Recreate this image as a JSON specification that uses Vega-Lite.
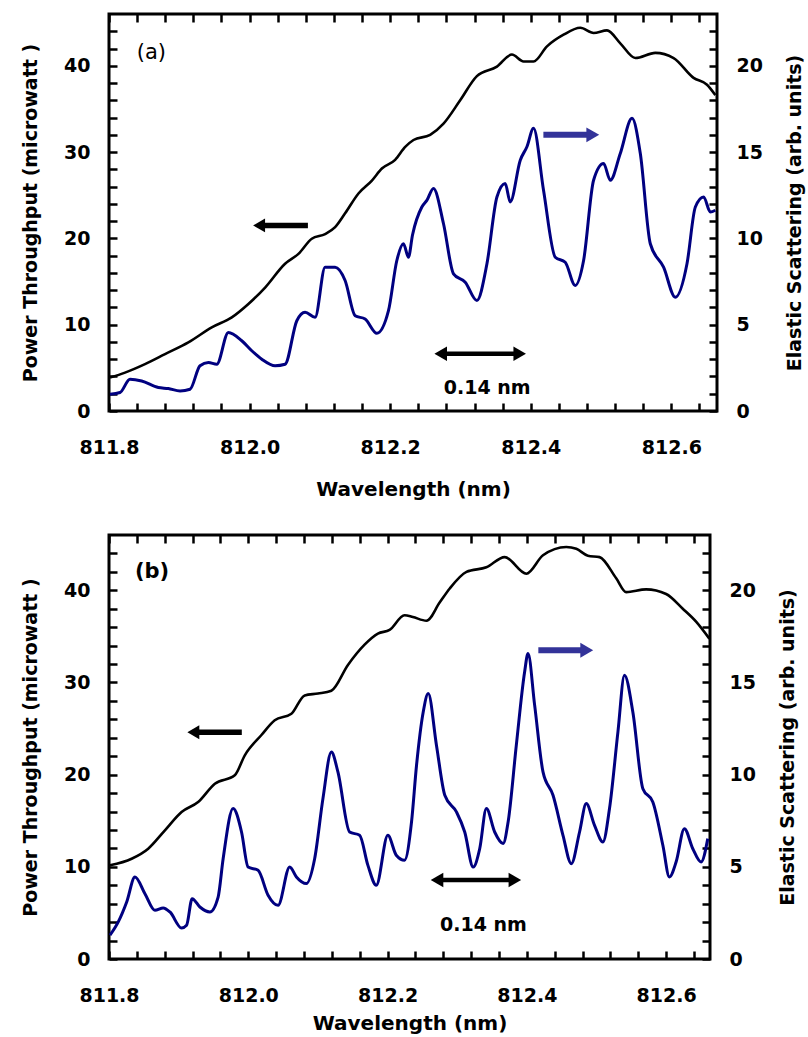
{
  "$schema": "https://vega.github.io/schema/vega-lite/v6.json",
  "padding": {"left": 20, "top": 11, "right": 0, "bottom": 2},
  "spacing": 31,
  "background": "white",
  "datasets": {
    "a_power": [
      {"wl": 811.8014, "p": 3.87}, {"wl": 811.8228, "p": 4.45}, {"wl": 811.8512, "p": 5.43}, {"wl": 811.8797, "p": 6.59},
      {"wl": 811.9129, "p": 7.95}, {"wl": 811.9462, "p": 9.69}, {"wl": 811.9747, "p": 10.85}, {"wl": 811.9983, "p": 12.4},
      {"wl": 812.0221, "p": 14.3}, {"wl": 812.0505, "p": 17.06}, {"wl": 812.0695, "p": 18.2}, {"wl": 812.0885, "p": 19.96},
      {"wl": 812.1075, "p": 20.5}, {"wl": 812.1217, "p": 21.3}, {"wl": 812.1359, "p": 22.9}, {"wl": 812.1549, "p": 25.2},
      {"wl": 812.174, "p": 26.7}, {"wl": 812.1882, "p": 28.1}, {"wl": 812.2071, "p": 29.1}, {"wl": 812.2214, "p": 30.6},
      {"wl": 812.2332, "p": 31.4}, {"wl": 812.2569, "p": 32.0}, {"wl": 812.2759, "p": 33.3}, {"wl": 812.2996, "p": 36.0},
      {"wl": 812.3234, "p": 38.8}, {"wl": 812.3519, "p": 39.9}, {"wl": 812.3732, "p": 41.3}, {"wl": 812.3898, "p": 40.5},
      {"wl": 812.404, "p": 40.5}, {"wl": 812.4231, "p": 42.25}, {"wl": 812.4467, "p": 43.6}, {"wl": 812.4705, "p": 44.4},
      {"wl": 812.4894, "p": 43.8}, {"wl": 812.5085, "p": 44.1}, {"wl": 812.5274, "p": 42.6}, {"wl": 812.5488, "p": 40.9},
      {"wl": 812.5772, "p": 41.5}, {"wl": 812.6033, "p": 40.9}, {"wl": 812.6317, "p": 38.6}, {"wl": 812.6508, "p": 37.8},
      {"wl": 812.6626, "p": 36.6}
    ],
    "a_scatter": [
      {"wl": 811.8014, "s": 0.97}, {"wl": 811.8157, "s": 1.07}, {"wl": 811.8299, "s": 1.84}, {"wl": 811.8465, "s": 1.74},
      {"wl": 811.8702, "s": 1.36}, {"wl": 811.8844, "s": 1.3}, {"wl": 811.9011, "s": 1.16}, {"wl": 811.9153, "s": 1.26},
      {"wl": 811.9295, "s": 2.62}, {"wl": 811.9414, "s": 2.81}, {"wl": 811.9533, "s": 2.71}, {"wl": 811.9698, "s": 4.55},
      {"wl": 811.9889, "s": 4.07}, {"wl": 812.0031, "s": 3.49}, {"wl": 812.0174, "s": 3.0}, {"wl": 812.0363, "s": 2.62},
      {"wl": 812.0505, "s": 2.71}, {"wl": 812.0672, "s": 5.23}, {"wl": 812.079, "s": 5.72}, {"wl": 812.0932, "s": 5.43},
      {"wl": 812.1075, "s": 8.33}, {"wl": 812.1217, "s": 8.33}, {"wl": 812.1359, "s": 7.56}, {"wl": 812.1502, "s": 5.52},
      {"wl": 812.1644, "s": 5.33}, {"wl": 812.1811, "s": 4.5}, {"wl": 812.1976, "s": 5.81}, {"wl": 812.2095, "s": 8.72},
      {"wl": 812.2189, "s": 9.69}, {"wl": 812.226, "s": 8.91}, {"wl": 812.2318, "s": 10.2}, {"wl": 812.2451, "s": 11.82},
      {"wl": 812.2522, "s": 12.2}, {"wl": 812.2616, "s": 12.89}, {"wl": 812.2759, "s": 10.85}, {"wl": 812.2901, "s": 7.95},
      {"wl": 812.3068, "s": 7.46}, {"wl": 812.3234, "s": 6.4}, {"wl": 812.3377, "s": 8.53}, {"wl": 812.3519, "s": 12.4},
      {"wl": 812.3637, "s": 13.18}, {"wl": 812.3708, "s": 12.11}, {"wl": 812.3851, "s": 14.53}, {"wl": 812.3946, "s": 15.31},
      {"wl": 812.404, "s": 16.38}, {"wl": 812.4182, "s": 12.79}, {"wl": 812.4349, "s": 8.91}, {"wl": 812.4491, "s": 8.62},
      {"wl": 812.4633, "s": 7.27}, {"wl": 812.4752, "s": 8.72}, {"wl": 812.4894, "s": 13.37}, {"wl": 812.5036, "s": 14.34},
      {"wl": 812.5132, "s": 13.37}, {"wl": 812.5274, "s": 14.92}, {"wl": 812.5441, "s": 16.96}, {"wl": 812.5559, "s": 14.92},
      {"wl": 812.5701, "s": 9.69}, {"wl": 812.589, "s": 8.33}, {"wl": 812.6057, "s": 6.59}, {"wl": 812.6223, "s": 8.53},
      {"wl": 812.6342, "s": 11.82}, {"wl": 812.646, "s": 12.4}, {"wl": 812.6555, "s": 11.53}, {"wl": 812.6626, "s": 11.63}
    ],
    "b_power": [
      {"wl": 811.8014, "p": 10.17}, {"wl": 811.8325, "p": 10.88}, {"wl": 811.8563, "p": 11.97}, {"wl": 811.8803, "p": 13.96},
      {"wl": 811.9042, "p": 15.95}, {"wl": 811.928, "p": 17.03}, {"wl": 811.952, "p": 19.02}, {"wl": 811.9806, "p": 19.93},
      {"wl": 811.995, "p": 22.1}, {"wl": 812.0189, "p": 24.3}, {"wl": 812.038, "p": 25.9}, {"wl": 812.0619, "p": 26.6},
      {"wl": 812.081, "p": 28.6}, {"wl": 812.1001, "p": 28.8}, {"wl": 812.1193, "p": 29.1}, {"wl": 812.1431, "p": 31.9},
      {"wl": 812.167, "p": 34.1}, {"wl": 812.1861, "p": 35.3}, {"wl": 812.2029, "p": 35.7}, {"wl": 812.2244, "p": 37.3},
      {"wl": 812.2363, "p": 37.1}, {"wl": 812.2559, "p": 36.7}, {"wl": 812.275, "p": 38.7}, {"wl": 812.2893, "p": 40.2},
      {"wl": 812.3133, "p": 42.0}, {"wl": 812.3419, "p": 42.5}, {"wl": 812.3682, "p": 43.6}, {"wl": 812.3993, "p": 41.8},
      {"wl": 812.4232, "p": 43.8}, {"wl": 812.4566, "p": 44.7}, {"wl": 812.471, "p": 44.5}, {"wl": 812.4877, "p": 43.75},
      {"wl": 812.5044, "p": 43.6}, {"wl": 812.5283, "p": 41.3}, {"wl": 812.5427, "p": 39.8}, {"wl": 812.5713, "p": 40.1},
      {"wl": 812.6, "p": 39.6}, {"wl": 812.6239, "p": 38.0}, {"wl": 812.643, "p": 36.6}, {"wl": 812.6621, "p": 34.75}
    ],
    "b_scatter": [
      {"wl": 811.8014, "s": 1.29}, {"wl": 811.8133, "s": 2.01}, {"wl": 811.8254, "s": 3.09}, {"wl": 811.8373, "s": 4.45},
      {"wl": 811.8516, "s": 3.54}, {"wl": 811.8659, "s": 2.64}, {"wl": 811.8778, "s": 2.77}, {"wl": 811.8875, "s": 2.55},
      {"wl": 811.9042, "s": 1.68}, {"wl": 811.9114, "s": 1.83}, {"wl": 811.9194, "s": 3.27}, {"wl": 811.9305, "s": 2.82},
      {"wl": 811.9448, "s": 2.55}, {"wl": 811.9567, "s": 3.36}, {"wl": 811.9639, "s": 5.44}, {"wl": 811.9782, "s": 8.16},
      {"wl": 811.9903, "s": 6.89}, {"wl": 811.9997, "s": 4.99}, {"wl": 812.0141, "s": 4.81}, {"wl": 812.0284, "s": 3.46},
      {"wl": 812.0427, "s": 2.91}, {"wl": 812.0595, "s": 4.99}, {"wl": 812.0691, "s": 4.45}, {"wl": 812.0834, "s": 4.09},
      {"wl": 812.0953, "s": 5.44}, {"wl": 812.1072, "s": 8.7}, {"wl": 812.1193, "s": 11.23}, {"wl": 812.1287, "s": 10.15},
      {"wl": 812.1455, "s": 6.89}, {"wl": 812.1599, "s": 6.71}, {"wl": 812.1718, "s": 5.08}, {"wl": 812.1838, "s": 4.0},
      {"wl": 812.2004, "s": 6.71}, {"wl": 812.2125, "s": 5.63}, {"wl": 812.2244, "s": 5.36}, {"wl": 812.2344, "s": 7.43},
      {"wl": 812.2416, "s": 10.51}, {"wl": 812.2512, "s": 13.4}, {"wl": 812.2584, "s": 14.4}, {"wl": 812.2702, "s": 11.6},
      {"wl": 812.2822, "s": 8.88}, {"wl": 812.2989, "s": 7.98}, {"wl": 812.3108, "s": 6.89}, {"wl": 812.3229, "s": 4.99},
      {"wl": 812.3323, "s": 5.98}, {"wl": 812.3419, "s": 8.16}, {"wl": 812.3538, "s": 6.89}, {"wl": 812.3659, "s": 6.26},
      {"wl": 812.3731, "s": 7.43}, {"wl": 812.3849, "s": 11.6}, {"wl": 812.3968, "s": 15.57}, {"wl": 812.4017, "s": 16.57},
      {"wl": 812.4112, "s": 13.77}, {"wl": 812.4232, "s": 10.15}, {"wl": 812.4376, "s": 8.88}, {"wl": 812.4519, "s": 6.71},
      {"wl": 812.4638, "s": 5.17}, {"wl": 812.4757, "s": 6.89}, {"wl": 812.4853, "s": 8.43}, {"wl": 812.4972, "s": 7.25},
      {"wl": 812.5092, "s": 6.35}, {"wl": 812.5187, "s": 8.16}, {"wl": 812.5308, "s": 12.32}, {"wl": 812.5402, "s": 15.39},
      {"wl": 812.5522, "s": 13.4}, {"wl": 812.5666, "s": 9.24}, {"wl": 812.5809, "s": 8.52}, {"wl": 812.5953, "s": 6.17},
      {"wl": 812.6047, "s": 4.45}, {"wl": 812.6143, "s": 5.26}, {"wl": 812.6262, "s": 7.07}, {"wl": 812.6383, "s": 5.98},
      {"wl": 812.6502, "s": 5.26}, {"wl": 812.6598, "s": 6.53}
    ]
  },
  "vconcat": [
    {
      "width": 608,
      "height": 397,
      "resolve": {"scale": {"x": "independent", "y": "independent"}},
      "layer": [
        {
          "data": {"name": "a_power"},
          "mark": {"type": "line", "color": "black", "strokeWidth": 2.6, "clip": true, "interpolate": "monotone"},
          "encoding": {
            "x": {"field": "wl", "type": "quantitative", "scale": {"domain": [811.8, 812.665], "nice": false, "zero": false},
              "axis": {"orient": "bottom", "values": [811.8, 811.84, 811.88, 811.92, 811.96, 812.0, 812.04, 812.08, 812.12, 812.16, 812.2, 812.24, 812.28, 812.32, 812.36, 812.4, 812.44, 812.48, 812.52, 812.56, 812.6, 812.64],
                "labelExpr": "abs(datum.value*5 - round(datum.value*5)) < 0.001 ? format(datum.value, '.1f') : ''",
                "labelFlush": false, "labelOverlap": false, "labelPadding": 35, "labelFontWeight": "bold", "title": "Wavelength (nm)", "titlePadding": 22, "titleFontSize": 20}},
            "y": {"field": "p", "type": "quantitative", "scale": {"domain": [0, 46], "nice": false, "zero": false},
              "axis": {"orient": "left", "values": [0, 2, 4, 6, 8, 10, 12, 14, 16, 18, 20, 22, 24, 26, 28, 30, 32, 34, 36, 38, 40, 42, 44],
                "labelExpr": "datum.value % 10 === 0 ? datum.label : ''", "labelOverlap": false, "labelFlush": false, "labelFontWeight": "bold",
                "labelPadding": 27, "title": "Power Throughput (microwatt )", "titlePadding": 23}}
          }
        },
        {
          "data": {"name": "a_scatter"},
          "mark": {"type": "line", "color": "#000080", "strokeWidth": 3, "clip": true, "interpolate": "monotone"},
          "encoding": {
            "x": {"field": "wl", "type": "quantitative", "scale": {"domain": [811.8, 812.665], "nice": false, "zero": false},
              "axis": {"orient": "top", "values": [811.8, 811.84, 811.88, 811.92, 811.96, 812.0, 812.04, 812.08, 812.12, 812.16, 812.2, 812.24, 812.28, 812.32, 812.36, 812.4, 812.44, 812.48, 812.52, 812.56, 812.6, 812.64],
                "labels": false, "title": null}},
            "y": {"field": "s", "type": "quantitative", "scale": {"domain": [0, 23], "nice": false, "zero": false},
              "axis": {"orient": "right", "values": [0, 1, 2, 3, 4, 5, 6, 7, 8, 9, 10, 11, 12, 13, 14, 15, 16, 17, 18, 19, 20, 21, 22],
                "labelExpr": "datum.value % 5 === 0 ? datum.label : ''", "labelOverlap": false, "labelFlush": false, "labelFontWeight": "bold",
                "labelPadding": 27, "title": "Elastic Scattering (arb. units)", "titleAngle": 270, "titleBaseline": "top", "titlePadding": 23}}
          }
        },
        {
          "data": {"values": [{"x1": 812.0135, "x2": 812.083, "y": 21.5}]},
          "mark": {"type": "rule", "color": "black", "strokeWidth": 5.5},
          "encoding": {
            "x": {"field": "x1", "type": "quantitative", "scale": {"domain": [811.8, 812.665], "nice": false, "zero": false}, "axis": null},
            "x2": {"field": "x2"},
            "y": {"field": "y", "type": "quantitative", "scale": {"domain": [0, 46], "nice": false, "zero": false}, "axis": null}
          }
        },
        {
          "data": {"values": [{"x": 812.0135, "y": 21.5}]},
          "mark": {"type": "point", "shape": "triangle-left", "filled": true, "color": "black", "opacity": 1, "size": 190},
          "encoding": {
            "x": {"field": "x", "type": "quantitative", "scale": {"domain": [811.8, 812.665], "nice": false, "zero": false}, "axis": null},
            "y": {"field": "y", "type": "quantitative", "scale": {"domain": [0, 46], "nice": false, "zero": false}, "axis": null}
          }
        },
        {
          "data": {"values": [{"x1": 812.418, "x2": 812.4883, "y": 32.0}]},
          "mark": {"type": "rule", "color": "#333399", "strokeWidth": 6},
          "encoding": {
            "x": {"field": "x1", "type": "quantitative", "scale": {"domain": [811.8, 812.665], "nice": false, "zero": false}, "axis": null},
            "x2": {"field": "x2"},
            "y": {"field": "y", "type": "quantitative", "scale": {"domain": [0, 46], "nice": false, "zero": false}, "axis": null}
          }
        },
        {
          "data": {"values": [{"x": 812.4883, "y": 32.0}]},
          "mark": {"type": "point", "shape": "triangle-right", "filled": true, "color": "#333399", "opacity": 1, "size": 220},
          "encoding": {
            "x": {"field": "x", "type": "quantitative", "scale": {"domain": [811.8, 812.665], "nice": false, "zero": false}, "axis": null},
            "y": {"field": "y", "type": "quantitative", "scale": {"domain": [0, 46], "nice": false, "zero": false}, "axis": null}
          }
        },
        {
          "data": {"values": [{"x1": 812.2719, "x2": 812.3843, "y": 6.63}]},
          "mark": {"type": "rule", "color": "black", "strokeWidth": 4.5},
          "encoding": {
            "x": {"field": "x1", "type": "quantitative", "scale": {"domain": [811.8, 812.665], "nice": false, "zero": false}, "axis": null},
            "x2": {"field": "x2"},
            "y": {"field": "y", "type": "quantitative", "scale": {"domain": [0, 46], "nice": false, "zero": false}, "axis": null}
          }
        },
        {
          "data": {"values": [{"x": 812.2719, "y": 6.63}]},
          "mark": {"type": "point", "shape": "triangle-left", "filled": true, "color": "black", "opacity": 1, "size": 210},
          "encoding": {
            "x": {"field": "x", "type": "quantitative", "scale": {"domain": [811.8, 812.665], "nice": false, "zero": false}, "axis": null},
            "y": {"field": "y", "type": "quantitative", "scale": {"domain": [0, 46], "nice": false, "zero": false}, "axis": null}
          }
        },
        {
          "data": {"values": [{"x": 812.3843, "y": 6.63}]},
          "mark": {"type": "point", "shape": "triangle-right", "filled": true, "color": "black", "opacity": 1, "size": 210},
          "encoding": {
            "x": {"field": "x", "type": "quantitative", "scale": {"domain": [811.8, 812.665], "nice": false, "zero": false}, "axis": null},
            "y": {"field": "y", "type": "quantitative", "scale": {"domain": [0, 46], "nice": false, "zero": false}, "axis": null}
          }
        },
        {
          "data": {"values": [{"x": 812.338, "y": 2.67, "label": "0.14 nm"}]},
          "mark": {"type": "text", "font": "DejaVu Sans", "fontWeight": "bold", "fontSize": 19, "align": "center", "baseline": "middle", "color": "black"},
          "encoding": {
            "x": {"field": "x", "type": "quantitative", "scale": {"domain": [811.8, 812.665], "nice": false, "zero": false}, "axis": null},
            "y": {"field": "y", "type": "quantitative", "scale": {"domain": [0, 46], "nice": false, "zero": false}, "axis": null},
            "text": {"field": "label"}
          }
        },
        {
          "data": {"values": [{"x": 811.8394, "y": 41.5, "label": "(a)"}]},
          "mark": {"type": "text", "font": "DejaVu Sans", "fontWeight": "normal", "fontSize": 21, "align": "left", "baseline": "middle", "color": "black"},
          "encoding": {
            "x": {"field": "x", "type": "quantitative", "scale": {"domain": [811.8, 812.665], "nice": false, "zero": false}, "axis": null},
            "y": {"field": "y", "type": "quantitative", "scale": {"domain": [0, 46], "nice": false, "zero": false}, "axis": null},
            "text": {"field": "label"}
          }
        }
      ]
    },
    {
      "width": 601,
      "height": 424,
      "resolve": {"scale": {"x": "independent", "y": "independent"}},
      "layer": [
        {
          "data": {"name": "b_power"},
          "mark": {"type": "line", "color": "black", "strokeWidth": 2.6, "clip": true, "interpolate": "monotone"},
          "encoding": {
            "x": {"field": "wl", "type": "quantitative", "scale": {"domain": [811.8, 812.663], "nice": false, "zero": false},
              "axis": {"orient": "bottom", "values": [811.8, 811.84, 811.88, 811.92, 811.96, 812.0, 812.04, 812.08, 812.12, 812.16, 812.2, 812.24, 812.28, 812.32, 812.36, 812.4, 812.44, 812.48, 812.52, 812.56, 812.6, 812.64],
                "labelExpr": "abs(datum.value*5 - round(datum.value*5)) < 0.001 ? format(datum.value, '.1f') : ''",
                "labelFlush": false, "labelOverlap": false, "labelPadding": 35, "labelFontWeight": "bold", "title": "Wavelength (nm)", "titlePadding": 8, "titleFontSize": 20}},
            "y": {"field": "p", "type": "quantitative", "scale": {"domain": [0, 46], "nice": false, "zero": false},
              "axis": {"orient": "left", "values": [0, 2, 4, 6, 8, 10, 12, 14, 16, 18, 20, 22, 24, 26, 28, 30, 32, 34, 36, 38, 40, 42, 44],
                "labelExpr": "datum.value % 10 === 0 ? datum.label : ''", "labelOverlap": false, "labelFlush": false, "labelFontWeight": "bold",
                "labelPadding": 27, "title": "Power Throughput (microwatt )", "titlePadding": 23}}
          }
        },
        {
          "data": {"name": "b_scatter"},
          "mark": {"type": "line", "color": "#000080", "strokeWidth": 3, "clip": true, "interpolate": "monotone"},
          "encoding": {
            "x": {"field": "wl", "type": "quantitative", "scale": {"domain": [811.8, 812.663], "nice": false, "zero": false},
              "axis": {"orient": "top", "values": [811.8, 811.84, 811.88, 811.92, 811.96, 812.0, 812.04, 812.08, 812.12, 812.16, 812.2, 812.24, 812.28, 812.32, 812.36, 812.4, 812.44, 812.48, 812.52, 812.56, 812.6, 812.64],
                "labels": false, "title": null}},
            "y": {"field": "s", "type": "quantitative", "scale": {"domain": [0, 23], "nice": false, "zero": false},
              "axis": {"orient": "right", "values": [0, 1, 2, 3, 4, 5, 6, 7, 8, 9, 10, 11, 12, 13, 14, 15, 16, 17, 18, 19, 20, 21, 22],
                "labelExpr": "datum.value % 5 === 0 ? datum.label : ''", "labelOverlap": false, "labelFlush": false, "labelFontWeight": "bold",
                "labelPadding": 27, "title": "Elastic Scattering (arb. units)", "titleAngle": 270, "titleBaseline": "top", "titlePadding": 23}}
          }
        },
        {
          "data": {"values": [{"x1": 811.9211, "x2": 811.9907, "y": 24.6}]},
          "mark": {"type": "rule", "color": "black", "strokeWidth": 5.5},
          "encoding": {
            "x": {"field": "x1", "type": "quantitative", "scale": {"domain": [811.8, 812.663], "nice": false, "zero": false}, "axis": null},
            "x2": {"field": "x2"},
            "y": {"field": "y", "type": "quantitative", "scale": {"domain": [0, 46], "nice": false, "zero": false}, "axis": null}
          }
        },
        {
          "data": {"values": [{"x": 811.9211, "y": 24.6}]},
          "mark": {"type": "point", "shape": "triangle-left", "filled": true, "color": "black", "opacity": 1, "size": 190},
          "encoding": {
            "x": {"field": "x", "type": "quantitative", "scale": {"domain": [811.8, 812.663], "nice": false, "zero": false}, "axis": null},
            "y": {"field": "y", "type": "quantitative", "scale": {"domain": [0, 46], "nice": false, "zero": false}, "axis": null}
          }
        },
        {
          "data": {"values": [{"x1": 812.4165, "x2": 812.486, "y": 33.5}]},
          "mark": {"type": "rule", "color": "#333399", "strokeWidth": 6},
          "encoding": {
            "x": {"field": "x1", "type": "quantitative", "scale": {"domain": [811.8, 812.663], "nice": false, "zero": false}, "axis": null},
            "x2": {"field": "x2"},
            "y": {"field": "y", "type": "quantitative", "scale": {"domain": [0, 46], "nice": false, "zero": false}, "axis": null}
          }
        },
        {
          "data": {"values": [{"x": 812.486, "y": 33.5}]},
          "mark": {"type": "point", "shape": "triangle-right", "filled": true, "color": "#333399", "opacity": 1, "size": 220},
          "encoding": {
            "x": {"field": "x", "type": "quantitative", "scale": {"domain": [811.8, 812.663], "nice": false, "zero": false}, "axis": null},
            "y": {"field": "y", "type": "quantitative", "scale": {"domain": [0, 46], "nice": false, "zero": false}, "axis": null}
          }
        },
        {
          "data": {"values": [{"x1": 812.271, "x2": 812.3828, "y": 8.57}]},
          "mark": {"type": "rule", "color": "black", "strokeWidth": 4.5},
          "encoding": {
            "x": {"field": "x1", "type": "quantitative", "scale": {"domain": [811.8, 812.663], "nice": false, "zero": false}, "axis": null},
            "x2": {"field": "x2"},
            "y": {"field": "y", "type": "quantitative", "scale": {"domain": [0, 46], "nice": false, "zero": false}, "axis": null}
          }
        },
        {
          "data": {"values": [{"x": 812.271, "y": 8.57}]},
          "mark": {"type": "point", "shape": "triangle-left", "filled": true, "color": "black", "opacity": 1, "size": 210},
          "encoding": {
            "x": {"field": "x", "type": "quantitative", "scale": {"domain": [811.8, 812.663], "nice": false, "zero": false}, "axis": null},
            "y": {"field": "y", "type": "quantitative", "scale": {"domain": [0, 46], "nice": false, "zero": false}, "axis": null}
          }
        },
        {
          "data": {"values": [{"x": 812.3828, "y": 8.57}]},
          "mark": {"type": "point", "shape": "triangle-right", "filled": true, "color": "black", "opacity": 1, "size": 210},
          "encoding": {
            "x": {"field": "x", "type": "quantitative", "scale": {"domain": [811.8, 812.663], "nice": false, "zero": false}, "axis": null},
            "y": {"field": "y", "type": "quantitative", "scale": {"domain": [0, 46], "nice": false, "zero": false}, "axis": null}
          }
        },
        {
          "data": {"values": [{"x": 812.3376, "y": 3.69, "label": "0.14 nm"}]},
          "mark": {"type": "text", "font": "DejaVu Sans", "fontWeight": "bold", "fontSize": 19, "align": "center", "baseline": "middle", "color": "black"},
          "encoding": {
            "x": {"field": "x", "type": "quantitative", "scale": {"domain": [811.8, 812.663], "nice": false, "zero": false}, "axis": null},
            "y": {"field": "y", "type": "quantitative", "scale": {"domain": [0, 46], "nice": false, "zero": false}, "axis": null},
            "text": {"field": "label"}
          }
        },
        {
          "data": {"values": [{"x": 811.8373, "y": 42.0, "label": "(b)"}]},
          "mark": {"type": "text", "font": "DejaVu Sans", "fontWeight": "bold", "fontSize": 21, "align": "left", "baseline": "middle", "color": "black"},
          "encoding": {
            "x": {"field": "x", "type": "quantitative", "scale": {"domain": [811.8, 812.663], "nice": false, "zero": false}, "axis": null},
            "y": {"field": "y", "type": "quantitative", "scale": {"domain": [0, 46], "nice": false, "zero": false}, "axis": null},
            "text": {"field": "label"}
          }
        }
      ]
    }
  ],
  "config": {
    "font": "DejaVu Sans",
    "view": {"stroke": "black", "strokeWidth": 3},
    "axis": {
      "domain": false, "grid": false,
      "labelFont": "DejaVu Sans", "labelFontWeight": "bold", "labelFontSize": 19, "labelColor": "black",
      "titleFont": "DejaVu Sans", "titleFontWeight": "bold", "titleFontSize": 19, "titleColor": "black",
      "tickColor": "black", "tickWidth": 2.5, "tickSize": -8
    }
  }
}
